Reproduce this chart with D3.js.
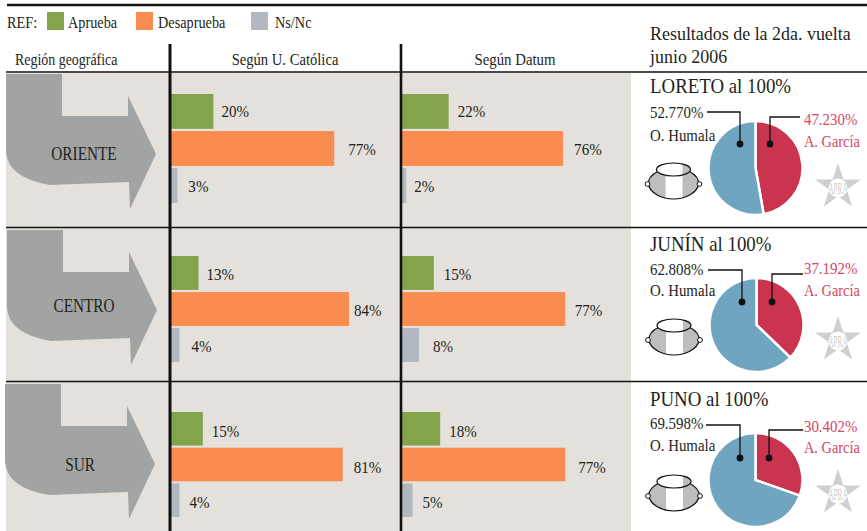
<!DOCTYPE html>
<html>
<head>
<meta charset="utf-8">
<script src="https://cdn.jsdelivr.net/npm/d3@7"></script>
<style>
  body { margin: 0; background: #fff; }
  svg { display: block; }
  text { font-family: "Liberation Serif", serif; fill: #231f20; }
</style>
</head>
<body>
<svg id="chart" width="867" height="531"></svg>
<script>
var regions = ["ORIENTE", "CENTRO", "SUR"];
var categories = ["Aprueba", "Desaprueba", "Ns/Nc"];
var catolica = [[20, 77, 3], [13, 84, 4], [15, 81, 4]];
var datum = [[22, 76, 2], [15, 77, 8], [18, 77, 5]];
var departments = ["LORETO", "JUNÍN", "PUNO"];
var humala = [52.770, 62.808, 69.598];
var garcia = [47.230, 37.192, 30.402];

var colors = { Aprueba: "#84a44c", Desaprueba: "#f98c4e", "Ns/Nc": "#b1b8bf" };
var blue = "#6fa5c1", red = "#cb344f", redText = "#d4465f", grey = "#a2a4a3", panel = "#e4e1dc";

// layout of the three rows
var barTop = [94, 256, 412], barBottom = [203, 362, 517];
var labelDy = [0, 1, 2];
var arrowDx = [0, 1, -1], arrowDy = [0, 156, 310];
var regionX = [84, 84, 80], regionY = [160, 312, 471];
var pieC = [[755.5, 168], [756.5, 325], [755.5, 480]];
var potC = [[673.5, 182], [674, 338], [674, 494]];
var starC = [[838, 187], [838, 340], [838, 493]];
var catGap = [[8, 14, 11], [8, 5, 12], [9, 11, 10]];
var datGap = [[9, 11, 8], [10, 9.5, 14], [9, 13, 10]];

var svg = d3.select("#chart");

// the original face is a narrow garamond, so squeeze the serif sideways
function squeezed(x, y, k) {
  return "translate(" + x + "," + y + ") scale(" + k + ",1)";
}
function label(x, y, s, size, k, color, anchor) {
  return svg.append("text").attr("transform", squeezed(x, y, k || 0.84)).attr("font-size", size)
    .attr("text-anchor", anchor || "start").style("fill", color || "#231f20").text(s);
}

svg.append("rect").attr("x", 6).attr("y", 73).attr("width", 625).attr("height", 458).attr("fill", panel);

// legend
label(7, 28, "REF:", 17);
var legendX = d3.scaleOrdinal().domain(categories).range([47, 136, 251]);
var legendTextX = d3.scaleOrdinal().domain(categories).range([68, 158, 275]);
categories.forEach(function (c) {
  svg.append("rect").attr("x", legendX(c)).attr("y", 12).attr("width", 17).attr("height", 18).attr("fill", colors[c]);
  label(legendTextX(c), 28, c, 17);
});

// headers
label(15, 65, "Región geográfica", 17, 0.82);
label(285, 65, "Según U. Católica", 17, 0.86, null, "middle");
label(515, 65, "Según Datum", 17, 0.87, null, "middle");
label(650, 40, "Resultados de la 2da. vuelta", 18.5, 0.97);
label(650, 63, "junio 2006", 18.5, 0.97);

var x = d3.scaleLinear().domain([0, 100]).range([0, 212]);

function arrow(i) {
  var p = d3.path(), dx = arrowDx[i], dy = arrowDy[i];
  p.moveTo(6 + dx, 74 + dy);
  p.lineTo(62 + dx, 74 + dy);
  p.lineTo(62 + dx, 116 + dy);
  p.lineTo(128 + dx, 116 + dy);
  p.lineTo(128 + dx, 96 + dy);
  p.lineTo(156 + dx, 154 + dy);
  p.lineTo(130 + dx, 209 + dy);
  p.lineTo(129 + dx, 182 + dy);
  p.lineTo(50 + dx, 185 + dy);
  p.quadraticCurveTo(8 + dx, 178 + dy, 6 + dx, 152 + dy);
  p.closePath();
  return p.toString();
}

function bars(values, gaps, x0, i) {
  var y = d3.scaleBand().domain(categories).range([barTop[i], barBottom[i]]).paddingInner(0.06);
  var g = svg.append("g").attr("transform", "translate(" + x0 + ",0)");
  g.selectAll("rect").data(values).enter().append("rect")
    .attr("x", 0)
    .attr("y", function (d, j) { return y(categories[j]); })
    .attr("width", function (d) { return x(d); })
    .attr("height", y.bandwidth())
    .attr("fill", function (d, j) { return colors[categories[j]]; });
  g.selectAll("text").data(values).enter().append("text")
    .attr("transform", function (d, j) {
      return squeezed(x(d) + gaps[i][j], y(categories[j]) + y.bandwidth() / 2 + 6 + labelDy[i], 0.86);
    })
    .attr("font-size", 17.5)
    .text(function (d) { return d + "%"; });
}

var pie = d3.pie().sort(null);
var arc = d3.arc().innerRadius(0).outerRadius(47);

function pot(cx, cy) {
  var g = svg.append("g").attr("transform", "translate(" + cx + "," + cy + ")");
  var body = "M-15,-11 C-21,-8 -26,-3 -25,3 C-23,11 -12,17 0,17 C12,17 23,11 25,3 C26,-3 21,-8 15,-11Z";
  g.append("path").attr("d", body).attr("fill", "#bcbdbf");
  g.append("rect").attr("x", -8).attr("y", -10).attr("width", 17).attr("height", 27).attr("fill", "#fff");
  g.append("path").attr("d", body).attr("fill", "none").attr("stroke", "#111").attr("stroke-width", 1.2);
  g.append("ellipse").attr("cy", -12.5).attr("rx", 17).attr("ry", 6.5).attr("fill", "#fff");
  g.append("path").attr("d", "M9,-19 L9,-6 C13,-7 17,-9 17,-12.5 C17,-15.5 13,-18 9,-19Z").attr("fill", "#bcbdbf");
  g.append("ellipse").attr("cy", -12.5).attr("rx", 17).attr("ry", 6.5).attr("fill", "none").attr("stroke", "#111").attr("stroke-width", 1.2);
  [-1, 1].forEach(function (s) {
    g.append("circle").attr("cx", s * 26).attr("cy", 2).attr("r", 2.4).attr("fill", "#fff").attr("stroke", "#111");
  });
}

function star(cx, cy) {
  var g = svg.append("g").attr("transform", "translate(" + cx + "," + cy + ")");
  g.append("path").attr("d", d3.symbol().type(d3.symbolStar).size(650)()).attr("fill", "#ccd0d3");
  g.append("circle").attr("cy", 1).attr("r", 9.5).attr("fill", "#fff");
  g.append("text").attr("text-anchor", "middle").attr("transform", squeezed(0, 7, 0.43)).attr("font-size", 17)
    .style("fill", "#ccd0d3").text("APRA");
}

// leader line with its dot, polyline is start -> elbow -> dot
function leader(pts) {
  svg.append("path").attr("d", d3.line()(pts)).attr("fill", "none").attr("stroke", "#111").attr("stroke-width", 1.3);
  svg.append("circle").attr("cx", pts[2][0]).attr("cy", pts[2][1]).attr("r", 3.4).attr("fill", "#111");
}

var humalaLine = [[[707, 112], [740, 112], [740, 144]], [[708, 270], [742, 270], [742, 302]], [[706, 425], [740, 425], [740, 458]]];
var garciaLine = [[[800, 117], [770, 117], [770, 144]], [[803, 274], [772, 274], [772, 302]], [[803, 430], [769, 430], [769, 458]]];
var deptY = [93, 251, 406], humY = [118, 275, 429], nameY = [141, 296, 451], garY = [125, 274, 432], garNameY = [147, 296, 453];

regions.forEach(function (r, i) {
  svg.append("path").attr("d", arrow(i)).attr("fill", grey);
  label(regionX[i], regionY[i], r, 18, 0.85, null, "middle");

  bars(catolica[i], catGap, 171, i);
  bars(datum[i], datGap, 402, i);

  // right column: one pie per department
  var g = svg.append("g").attr("transform", "translate(" + pieC[i][0] + "," + pieC[i][1] + ")");
  g.selectAll("path").data(pie([garcia[i], humala[i]])).enter().append("path")
    .attr("d", arc)
    .attr("fill", function (d, j) { return j === 0 ? red : blue; })
    .attr("stroke", "#fff")
    .attr("stroke-width", 2.5);

  pot(potC[i][0], potC[i][1]);
  star(starC[i][0], starC[i][1]);
  leader(humalaLine[i]);
  leader(garciaLine[i]);

  label(650, deptY[i], departments[i] + " al 100%", 20.5, 0.92);
  label(650, humY[i], humala[i].toFixed(3) + "%", 17.5, 0.85);
  label(650, nameY[i], "O. Humala", 17.5, 0.85);
  label(804, garY[i], garcia[i].toFixed(3) + "%", 17.5, 0.85, redText);
  label(804, garNameY[i], "A. García", 17.5, 0.82, redText);
});

// rules
svg.append("line").attr("x1", 7).attr("x2", 867).attr("y1", 5).attr("y2", 5).attr("stroke", "#111").attr("stroke-width", 2.6);
[72, 227.5, 381.5].forEach(function (y) {
  svg.append("line").attr("x1", 6).attr("x2", 867).attr("y1", y).attr("y2", y).attr("stroke", "#111").attr("stroke-width", 1.5);
});
[[170, 3], [401, 2.6]].forEach(function (v) {
  svg.append("line").attr("x1", v[0]).attr("x2", v[0]).attr("y1", 44).attr("y2", 531).attr("stroke", "#111").attr("stroke-width", v[1]);
});
</script>
</body>
</html>
